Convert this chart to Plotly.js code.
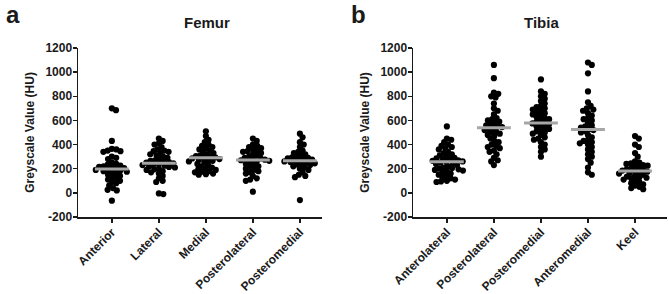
<!DOCTYPE html>
<html><head><meta charset="utf-8">
<script src="https://cdn.plot.ly/plotly-3.0.1.min.js"></script>
<style>html,body{margin:0;padding:0;background:#fff}#chart{width:669px;height:294px}</style>
</head><body><div id="chart"></div>
<script>
// ---- Data ----
const femurCategories = ["Anterior", "Lateral", "Medial", "Posterolateral", "Posteromedial"];
const tibiaCategories = ["Anterolateral", "Posterolateral", "Posteromedial", "Anteromedial", "Keel"];

const femurAnterior = [700, 685, 430, 365, 360, 350, 345, 340, 300, 290, 280, 250, 240, 235, 225, 220, 215, 210, 205, 200, 195, 190, 185, 180, 175, 170, 160, 150, 140, 130, 120, 110, 100, 90, 80, 60, 40, 25, 20, -65];
const femurLateral = [450, 430, 410, 400, 380, 360, 350, 345, 340, 330, 320, 310, 300, 290, 280, 270, 265, 260, 255, 250, 245, 240, 235, 230, 225, 220, 215, 210, 200, 195, 190, 180, 170, 160, 140, 120, 100, 90, -5, -10];
const femurMedial = [510, 470, 440, 420, 400, 390, 380, 370, 360, 350, 340, 330, 320, 310, 305, 300, 295, 290, 285, 280, 275, 270, 265, 260, 250, 240, 230, 220, 210, 200, 195, 190, 180, 175, 170, 160, 155, 150];
const femurPosterolateral = [450, 430, 400, 390, 380, 370, 360, 350, 345, 340, 330, 320, 310, 300, 290, 285, 280, 275, 270, 265, 260, 250, 240, 230, 220, 210, 200, 190, 180, 170, 160, 140, 120, 110, 100, 10];
const femurPosteromedial = [490, 460, 420, 400, 380, 350, 340, 330, 320, 310, 300, 295, 290, 285, 280, 275, 270, 265, 260, 255, 250, 245, 240, 235, 230, 220, 210, 200, 190, 170, 150, 140, 130, -60];
const femurCentre = [198, 245, 290, 272, 265];

const tibiaAnterolateral = [550, 450, 440, 420, 400, 390, 380, 370, 360, 340, 330, 320, 310, 300, 290, 285, 280, 275, 270, 265, 260, 255, 250, 245, 240, 230, 220, 210, 205, 200, 195, 190, 185, 180, 170, 160, 150, 140, 130, 120, 110, 100, 95, 90];
const tibiaPosterolateral = [1060, 950, 830, 820, 800, 790, 740, 700, 680, 650, 620, 610, 600, 590, 580, 570, 560, 550, 545, 540, 530, 520, 510, 500, 490, 480, 470, 450, 430, 420, 400, 390, 380, 370, 350, 340, 320, 290, 270, 260, 230];
const tibiaPosteromedial = [940, 840, 820, 800, 780, 760, 740, 720, 710, 700, 690, 680, 670, 660, 650, 640, 630, 620, 610, 600, 590, 580, 575, 570, 560, 550, 540, 530, 520, 510, 500, 490, 480, 460, 450, 440, 420, 400, 380, 360, 340, 300];
const tibiaAnteromedial = [1080, 1060, 990, 840, 750, 720, 700, 690, 680, 660, 640, 620, 610, 600, 580, 560, 550, 540, 530, 520, 510, 500, 480, 460, 440, 430, 420, 410, 400, 380, 360, 340, 320, 300, 280, 250, 210, 170, 150];
const tibiaKeel = [470, 450, 400, 380, 330, 300, 260, 250, 245, 240, 230, 225, 220, 210, 200, 195, 190, 185, 180, 175, 170, 165, 160, 150, 140, 135, 130, 125, 120, 110, 100, 90, 80, 70, 60, 50, 40, 30];
const tibiaCentre = [258, 540, 578, 525, 182];

const yTickVals = [-200, 0, 200, 400, 600, 800, 1000, 1200];

// ---- Layout geometry ----
const W = 669, H = 294;
const plotTop = 48, plotBottom = 217;
const leftDom = [78 / W, 322 / W];
const rightDom = [413 / W, 667 / W];
const yDom = [(H - plotBottom) / H, (H - plotTop) / H];
const xRangeL = [-0.72, 4.47];
const xRangeR = [-0.72, 4.68];
const yRange = [-200, 1200];

const pxPerUnit = (plotBottom - plotTop) / (yRange[1] - yRange[0]);
const pxPerCatL = (322 - 78) / (xRangeL[1] - xRangeL[0]);
const pxPerCatR = (667 - 413) / (xRangeR[1] - xRangeR[0]);

// deterministic beeswarm offsets
function swarm(vals, pxPerCat, d) {
  const idx = vals.map((v, i) => i).sort((a, b) => vals[b] - vals[a]);
  const placed = [];
  const offs = new Array(vals.length).fill(0);
  idx.forEach(i => {
    const y = vals[i] * pxPerUnit;
    const cands = [0];
    placed.forEach(p => {
      const dy = y - p.y;
      if (Math.abs(dy) < d) {
        const dx = Math.sqrt(d * d - dy * dy);
        cands.push(p.x + dx + 0.01, p.x - dx - 0.01);
      }
    });
    cands.sort((a, b) => Math.abs(a) - Math.abs(b));
    let chosen = 0;
    for (const c of cands) {
      let ok = true;
      for (const p of placed) {
        const dx = c - p.x, dy = y - p.y;
        if (dx * dx + dy * dy < d * d - 0.001) { ok = false; break; }
      }
      if (ok) { chosen = c; break; }
    }
    placed.push({x: chosen, y: y});
    offs[i] = chosen / pxPerCat;
  });
  return offs;
}

const boldFont = {family: "Arial, 'Liberation Sans', sans-serif", color: "#1a1a1a", weight: "bold"};
const traces = [];
function addGroups(groups, centres, xaxis, yaxis, pxPerCat) {
  groups.forEach((vals, i) => {
    const offs = swarm(vals, pxPerCat, 4.5);
    traces.push({
      type: "scatter", mode: "markers", xaxis: xaxis, yaxis: yaxis,
      x: vals.map((v, j) => i + offs[j]), y: vals,
      marker: {color: "#000", size: 6.2, line: {width: 0}},
      hoverinfo: "skip", showlegend: false, cliponaxis: false
    });
  });
  centres.forEach((c, i) => {
    traces.push({
      type: "scatter", mode: "lines", xaxis: xaxis, yaxis: yaxis,
      x: [i - 0.36, i + 0.36], y: [c, c],
      line: {color: "#a6a6a6", width: 3}, hoverinfo: "skip", showlegend: false
    });
  });
}
addGroups([femurAnterior, femurLateral, femurMedial, femurPosterolateral, femurPosteromedial], femurCentre, "x", "y", pxPerCatL);
addGroups([tibiaAnterolateral, tibiaPosterolateral, tibiaPosteromedial, tibiaAnteromedial, tibiaKeel], tibiaCentre, "x2", "y2", pxPerCatR);

function xAxis(dom, range, cats, anchor) {
  return {
    domain: dom, range: range, anchor: anchor, showgrid: false, zeroline: false,
    showline: true, linecolor: "#1a1a1a", linewidth: 1.5,
    ticks: "outside", ticklen: 4, tickwidth: 1.5, tickcolor: "#1a1a1a",
    tickvals: cats.map((c, i) => i), ticktext: cats, tickangle: -45,
    ticklabelstandoff: -2,
    tickfont: Object.assign({size: 12}, boldFont), automargin: false, fixedrange: true
  };
}
function yAxis(dom, anchor) {
  return {
    domain: dom, range: yRange, anchor: anchor, showgrid: false, zeroline: false,
    showline: true, linecolor: "#1a1a1a", linewidth: 1.5,
    ticks: "outside", ticklen: 4, tickwidth: 1.5, tickcolor: "#1a1a1a",
    tickvals: yTickVals, ticktext: yTickVals.map(String),
    ticklabelstandoff: -2,
    tickfont: Object.assign({size: 12}, boldFont),
    title: {text: "Greyscale Value (HU)", font: Object.assign({size: 12}, boldFont), standoff: 8},
    automargin: false, fixedrange: true
  };
}

const layout = {
  width: W, height: H, margin: {l: 0, r: 0, t: 0, b: 0},
  paper_bgcolor: "#fff", plot_bgcolor: "#fff",
  xaxis: xAxis(leftDom, xRangeL, femurCategories, "y"),
  yaxis: yAxis(yDom, "x"),
  xaxis2: xAxis(rightDom, xRangeR, tibiaCategories, "y2"),
  yaxis2: yAxis(yDom, "x2"),
  annotations: [
    {text: "Femur", x: 207 / W, y: 1 - 23 / H, xref: "paper", yref: "paper", showarrow: false, xanchor: "center", yanchor: "middle", font: Object.assign({size: 15}, boldFont)},
    {text: "Tibia", x: 541 / W, y: 1 - 23 / H, xref: "paper", yref: "paper", showarrow: false, xanchor: "center", yanchor: "middle", font: Object.assign({size: 15}, boldFont)},
    {text: "a", x: 12.5 / W, y: 1 - 14 / H, xref: "paper", yref: "paper", showarrow: false, xanchor: "center", yanchor: "middle", font: Object.assign({size: 24}, boldFont)},
    {text: "b", x: 358.5 / W, y: 1 - 14 / H, xref: "paper", yref: "paper", showarrow: false, xanchor: "center", yanchor: "middle", font: Object.assign({size: 24}, boldFont)}
  ]
};

Plotly.newPlot("chart", traces, layout, {staticPlot: true, displayModeBar: false});
</script>
</body></html>
